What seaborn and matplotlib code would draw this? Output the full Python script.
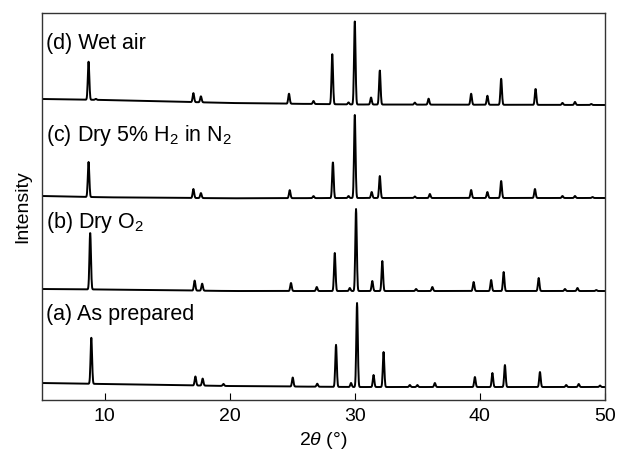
import numpy as np
import pandas as pd
import matplotlib.pyplot as plt
import seaborn as sns

# XRD patterns, 2theta (deg); intensities in arbitrary units (stacked)
samples = ['(a) As prepared', '(b) Dry O$_2$', '(c) Dry 5% H$_2$ in N$_2$', '(d) Wet air']

# peak positions / heights
pos_a = [8.94, 17.26, 17.84, 19.5, 25.04, 27.0, 28.5, 29.7, 30.18, 31.5, 32.3, 34.4, 35.0, 36.4,
         39.6, 41.0, 42.0, 44.8, 46.9, 47.9, 49.6]
hgt_a = [46, 9, 7, 2, 9, 3, 42, 4, 84, 12, 35, 2, 2, 4, 10, 14, 22, 15, 2, 3, 1.5]

pos_b = [8.85, 17.2, 17.8, 24.9, 26.96, 28.4, 29.6, 30.1, 31.4, 32.2, 34.9, 36.2, 39.5, 40.9,
         41.9, 44.7, 46.8, 47.8, 49.3]
hgt_b = [57, 10, 7, 8, 4, 38, 3, 82, 10, 30, 2, 4, 9, 11, 19, 13, 2, 3, 1]

pos_c = [8.72, 17.1, 17.7, 24.8, 26.7, 28.25, 29.5, 30.0, 31.35, 32.0, 34.8, 36.0, 39.3, 40.6,
         41.7, 44.4, 46.6, 47.6, 49.0]
hgt_c = [35, 9, 5, 8, 2, 36, 2, 83, 6, 22, 1.5, 4, 8, 6, 17, 9, 2, 2, 1]

pos_d = [8.72, 9.3, 17.1, 17.7, 24.74, 26.7, 28.2, 29.5, 30.0, 31.3, 32.0, 34.8, 35.9, 39.3,
         40.6, 41.7, 44.45, 46.6, 47.6, 48.9]
hgt_d = [38, 1, 9, 6, 10, 3, 50, 2, 83, 7, 34, 2, 6, 11, 9, 26, 16, 2, 3, 1]

# background level (incl. stacking offset)
bg_x = [5, 10, 20, 30, 50]
bg_a = [17, 16, 14, 13, 13]
bg_b = [111, 110.5, 109, 109, 109]
bg_c = [204, 202.7, 201.7, 202, 202]
bg_d = [301, 300, 297, 295.5, 295]

label_y = [80, 172, 259, 351]

two_theta = np.arange(5, 50.001, 0.02)
frames = []
for name, pos, hgt, bg in zip(samples, [pos_a, pos_b, pos_c, pos_d], [hgt_a, hgt_b, hgt_c, hgt_d],
                              [bg_a, bg_b, bg_c, bg_d]):
    y = np.interp(two_theta, bg_x, bg)
    for p, h in zip(pos, hgt):
        y = y + h * np.exp(-0.5 * ((two_theta - p) / 0.06) ** 2)
    frames.append(pd.DataFrame({'2theta': two_theta, 'I': y, 'sample': name}))
df = pd.concat(frames)

sns.set_style('ticks')
plt.rcParams['font.family'] = ['Liberation Sans', 'DejaVu Sans']
plt.rcParams['mathtext.fontset'] = 'custom'
plt.rcParams['mathtext.rm'] = 'Liberation Sans'
plt.rcParams['mathtext.it'] = 'Liberation Sans:italic'
plt.rcParams['text.color'] = 'black'
plt.rcParams['axes.labelcolor'] = 'black'
plt.rcParams['xtick.color'] = 'black'

fig = plt.figure(figsize=(6.19, 4.54), dpi=100)
ax = fig.add_axes([0.0679, 0.1189, 0.9095, 0.8525])
sns.lineplot(data=df, x='2theta', y='I', hue='sample', palette=['black'] * 4,
             estimator=None, legend=False, linewidth=1.4, ax=ax)

for name, ly in zip(samples, label_y):
    ax.text(5.35, ly, name, fontsize=15.5, va='baseline', ha='left')

ax.set_xlim(5, 50)
ax.set_ylim(0, 387)
ax.set_xticks([10, 20, 30, 40, 50])
ax.set_yticks([])
ax.tick_params(axis='x', direction='in', length=5, labelsize=14, pad=6)
for s in ax.spines.values():
    s.set_color('#333333')
    s.set_linewidth(1.0)
ax.set_xlabel('2$\\mathit{θ}$ (°)', fontsize=14, labelpad=3)
ax.set_ylabel('Intensity', fontsize=14, labelpad=8)

fig.savefig('out.png', dpi=100)
